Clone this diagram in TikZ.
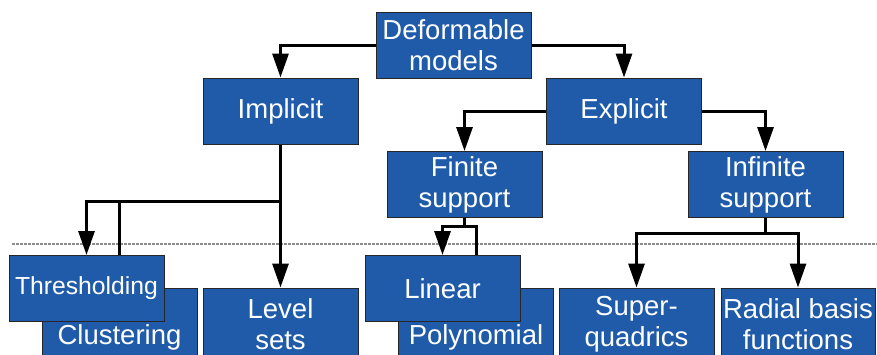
\documentclass[tikz,border=0pt]{standalone}
\usepackage{fontspec}
\setmainfont{Liberation Sans}
\usetikzlibrary{arrows.meta}
\definecolor{boxblue}{RGB}{31,91,168}
\tikzset{
  box/.style={draw=black!85, line width=1pt, fill=boxblue, text=white, align=center,
    minimum width=155pt, minimum height=66pt, inner sep=0pt,
    font=\fontsize{27.5}{31}\selectfont},
  lbl/.style={text=white, inner sep=0pt, font=\fontsize{27.5}{31}\selectfont},
  conn/.style={line width=3pt, draw=black},
  arr/.style={conn, -{Triangle[width=16pt,length=24pt]}},
  sep/.style={draw=black!45, line width=2.5pt, dash pattern=on 2.5pt off 1.5pt}
}
\begin{document}
\begin{tikzpicture}[x=1pt,y=-1pt]
\useasboundingbox (0,0) rectangle (877,354);
\clip (0,0) rectangle (877,354);
% separator
\draw[sep] (12,244) -- (877,244);
% boxes
\node[box] (dm) at (453.5,45) {Deformable\\models};
\node[box] (imp) at (280.5,111) {Implicit};
\node[box] (exp) at (624,111) {Explicit};
\node[box] (fin) at (464.5,184.5) {Finite\\support};
\node[box] (inf) at (765.5,184.5) {Infinite\\support};
\node[box, minimum height=72pt] (clu) at (119.5,324) {};
\node[lbl] (clut) at (119.5,337) {Clustering};
\node[box] (thr) at (86.5,288.5) {\fontsize{24.7}{30}\selectfont Thresholding};
\node[box, minimum height=72pt] (lev) at (280.5,324) {Level\\sets};
\node[box, minimum height=72pt] (pol) at (476,324.5) {};
\node[lbl] (polt) at (476,337) {Polynomial};
\node[box] (lin) at (442.5,288.5) {Linear};
\node[box, minimum height=72pt] (sup) at (636.5,324) {Super-\\quadrics};
\node[box, minimum height=72pt, minimum width=154pt] (rbf) at (798,324) {Radial basis\\functions};
% connectors
\draw[arr] (dm.west) -| (imp.north);
\draw[arr] (dm.east) -| (exp.north);
\draw[arr] (exp.west) -| (fin.north);
\draw[arr] (exp.east) -| (inf.north);
\coordinate (ij) at (280.5,201);
\draw[arr] (imp.south) -- (lev.north);
\draw[arr] (ij) -| (thr.north);
\draw[conn] (ij) -| (clu.north |- thr.north);
\coordinate (fj) at (464.5,226);
\draw[conn] (fin.south) -- (fj);
\draw[arr] (fj) -| (lin.north);
\draw[conn] (fj) -| (pol.north |- lin.north);
\coordinate (sj) at (765.5,233);
\draw[conn] (inf.south) -- (sj);
\draw[arr] (sj) -| (sup.north);
\draw[arr] (sj) -| (rbf.north);
\end{tikzpicture}
\end{document}
